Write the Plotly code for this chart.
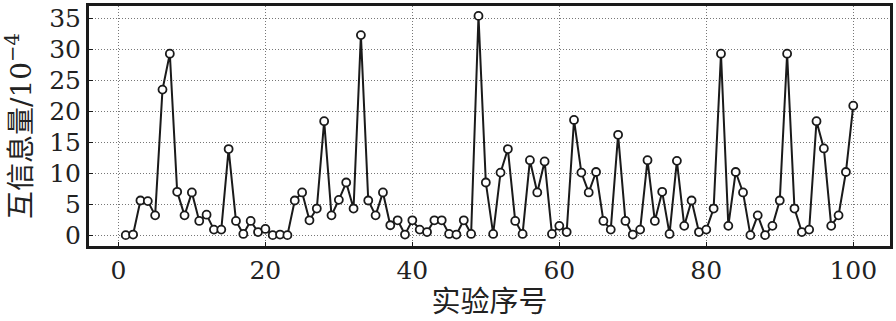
import plotly.graph_objects as go

experiment_ids = list(range(1, 101))
mutual_info = [
    0.0, 0.1, 5.6, 5.5, 3.2, 23.5, 29.3, 7.0, 3.2, 6.9,
    2.3, 3.3, 0.9, 0.9, 13.9, 2.3, 0.2, 2.3, 0.5, 1.0,
    0.0, 0.1, 0.0, 5.6, 6.9, 2.4, 4.3, 18.4, 3.2, 5.7,
    8.5, 4.3, 32.3, 5.6, 3.2, 6.9, 1.6, 2.4, 0.1, 2.4,
    0.9, 0.5, 2.4, 2.4, 0.2, 0.1, 2.4, 0.2, 35.4, 8.5,
    0.2, 10.1, 13.9, 2.3, 0.2, 12.1, 6.9, 11.9, 0.2, 1.5,
    0.5, 18.6, 10.1, 6.9, 10.2, 2.3, 0.9, 16.2, 2.3, 0.1,
    0.9, 12.1, 2.3, 7.0, 0.2, 12.0, 1.5, 5.6, 0.5, 0.9,
    4.3, 29.3, 1.5, 10.2, 6.9, 0.0, 3.2, 0.0, 1.5, 5.6,
    29.3, 4.3, 0.5, 0.9, 18.4, 14.0, 1.5, 3.2, 10.2, 20.9,
]
x_ticks = [0, 20, 40, 60, 80, 100]
y_ticks = [0, 5, 10, 15, 20, 25, 30, 35]

num_font = "DejaVu Serif"
title_font = "DejaVu Serif, Noto Sans CJK SC"

fig = go.Figure(
    go.Scatter(
        x=experiment_ids,
        y=mutual_info,
        mode="lines+markers",
        line=dict(color="#1a1a1a", width=2),
        marker=dict(symbol="circle", size=8, color="white",
                    line=dict(color="#1a1a1a", width=1.8)),
        showlegend=False,
    )
)

axis_common = dict(
    showline=True, linecolor="#1a1a1a", linewidth=3, mirror=True,
    showgrid=True, gridcolor="#777777", griddash="1px,2px", gridwidth=1,
    zeroline=False, ticks="inside", ticklen=4, tickcolor="#1a1a1a",
    tickfont=dict(family=num_font, size=25, color="#222222"),
)

fig.update_layout(
    width=896, height=321,
    margin=dict(l=89, r=4, t=3, b=75),
    paper_bgcolor="white", plot_bgcolor="white",
    font=dict(family=num_font, color="#222222"),
    xaxis=dict(
        range=[-4, 105], tickvals=x_ticks,
        title=dict(text="实验序号", font=dict(family=title_font, size=29), standoff=4),
        **axis_common,
    ),
    yaxis=dict(
        range=[-1.75, 37], tickvals=y_ticks,
        title=dict(text="互信息量/10<sup>−4</sup>", font=dict(family=title_font, size=28), standoff=10),
        **axis_common,
    ),
)

fig.write_html("out.html")
